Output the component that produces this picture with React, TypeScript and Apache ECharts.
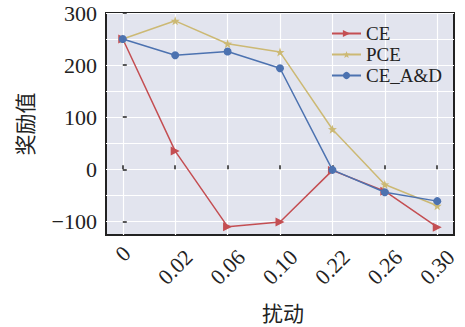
import React, { useEffect, useRef } from 'react';
import * as echarts from 'echarts';

// Perturbation levels on the x axis and the reward reached at each of them
const perturbations = ['0', '0.02', '0.06', '0.10', '0.22', '0.26', '0.30'];
const ceReward = [250, 35, -110, -101, -2, -42, -111];
const pceReward = [250, 285, 241, 225, 77, -29, -70];
const ceAdReward = [250, 219, 226, 194, -1, -44, -61];

const seriesNames = ['CE', 'PCE', 'CE_A&D'];
const yTickValues = [-100, 0, 100, 200, 300];
const yGridValues = [-100, -50, 0, 50, 100, 150, 200, 250, 300];

const STAR =
  'path://M0,-10 L2.35,-3.24 L9.51,-3.09 L3.8,1.24 L5.88,8.09 L0,4 L-5.88,8.09 L-3.8,1.24 L-9.51,-3.09 L-2.35,-3.24 Z';

const SERIF = '"Liberation Serif", "Times New Roman", serif';
const CJK = '"Noto Sans CJK SC", sans-serif';

export default function App() {
  const ref = useRef<HTMLDivElement>(null);

  useEffect(() => {
    if (!ref.current) return;
    const chart = echarts.init(ref.current, undefined, { renderer: 'svg' });
    const xIdx = perturbations.map((_, i) => i);
    const toPairs = (vals: number[]) => vals.map((v, i) => [i, v]);

    chart.setOption({
      animation: false,
      backgroundColor: '#ffffff',
      grid: {
        left: 106,
        right: 11,
        top: 13,
        bottom: 87,
        show: true,
        backgroundColor: '#e2e4ee',
        borderColor: '#222222',
        borderWidth: 2,
      },
      legend: {
        orient: 'vertical',
        left: 326,
        top: 19,
        itemWidth: 29,
        itemHeight: 9,
        itemGap: 2,
        textStyle: { fontFamily: SERIF, fontSize: 19, color: '#222', lineHeight: 19 },
        data: seriesNames,
      },
      xAxis: {
        type: 'value',
        min: -0.32,
        max: 6.32,
        name: '扰动',
        nameLocation: 'middle',
        nameGap: 66,
        nameTextStyle: { fontFamily: CJK, fontSize: 21, color: '#222', padding: [0, 0, 0, 6] },
        axisLine: { show: false },
        axisTick: { show: true, inside: true, length: 4, lineStyle: { color: '#222', width: 1.5 }, customValues: xIdx },
        axisLabel: {
          customValues: xIdx,
          rotate: 45,
          align: 'center',
          verticalAlign: 'middle',
          margin: 32,
          fontFamily: SERIF,
          fontSize: 22,
          color: '#222',
          formatter: (v: number) => {
            const s = perturbations[Math.round(v)];
            return s.length === 1 ? `{short|${s}}` : s;
          },
          rich: {
            short: { fontFamily: SERIF, fontSize: 22, color: '#222', padding: [0, 0, 19, 19] },
          },
        },
        splitLine: { show: true, lineStyle: { color: '#ffffff', width: 1.2 } },
      },
      yAxis: [
        {
          type: 'value',
          min: -126,
          max: 300,
          position: 'left',
          name: '奖励值',
          nameLocation: 'middle',
          nameRotate: 90,
          nameGap: 72,
          nameTextStyle: { fontFamily: CJK, fontSize: 21, color: '#222' },
          axisLine: { show: false },
          axisTick: { show: true, inside: true, length: 4, lineStyle: { color: '#222', width: 1.5 }, customValues: yTickValues },
          axisLabel: {
            customValues: yTickValues,
            margin: 9,
            fontFamily: SERIF,
            fontSize: 22,
            color: '#222',
            formatter: (v: number) => (v < 0 ? '\u2212' + Math.abs(v) : String(v)),
          },
          splitLine: { show: false },
        },
        {
          type: 'value',
          min: -126,
          max: 300,
          position: 'left',
          axisLine: { show: false },
          axisLabel: { show: false },
          axisTick: { show: false, customValues: yGridValues },
          splitLine: { show: true, lineStyle: { color: '#ffffff', width: 1.2 } },
        },
      ],
      series: [
        {
          name: seriesNames[0],
          type: 'line',
          data: toPairs(ceReward),
          symbol: 'triangle',
          symbolRotate: -90,
          symbolSize: 9,
          lineStyle: { color: '#c44e52', width: 1.5 },
          itemStyle: { color: '#c44e52' },
          z: 3,
        },
        {
          name: seriesNames[1],
          type: 'line',
          data: toPairs(pceReward),
          symbol: STAR,
          symbolSize: 9,
          lineStyle: { color: '#ccb974', width: 1.5 },
          itemStyle: { color: '#ccb974' },
          z: 4,
        },
        {
          name: seriesNames[2],
          type: 'line',
          data: toPairs(ceAdReward),
          symbol: 'circle',
          symbolSize: 8,
          lineStyle: { color: '#4c72b0', width: 1.5 },
          itemStyle: { color: '#4c72b0' },
          z: 5,
        },
      ],
    });

    return () => chart.dispose();
  }, []);

  return (
    <div
      ref={ref}
      style={{ position: 'fixed', left: 0, top: 0, width: 465, height: 327 }}
    />
  );
}
